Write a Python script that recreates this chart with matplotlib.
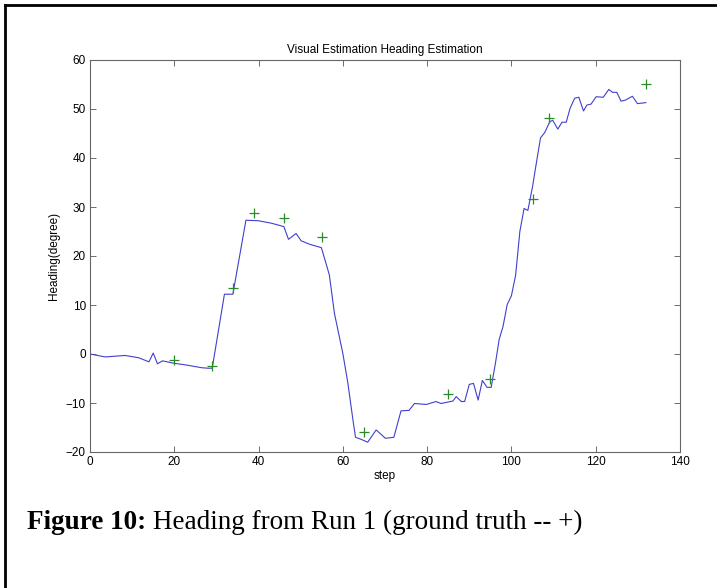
import numpy as np
import matplotlib
matplotlib.use('Agg')
import matplotlib.pyplot as plt
from matplotlib.lines import Line2D

# estimated heading (vision)
step = [0, 3.6, 6.7, 8.3, 11.5, 14, 15, 16, 17.2, 20, 22.5, 26.5, 28, 29,
        31.9, 33.9, 37, 39.9, 43, 46, 47.1, 48.9, 50.1, 52.1, 54.9, 56, 56.8,
        58, 60, 61.2, 62.4, 63, 64.3, 65.9, 67.9, 70.1, 72.1, 73.8, 75.7, 77,
        79.8, 82.1, 83.3, 86.1, 86.9, 88.1, 88.9, 90, 91, 92.1, 93.1, 94.2,
        95.2, 96.2, 97.1, 98, 99, 100, 101, 102, 103, 103.9, 105, 105.9, 106.9,
        107.9, 109.1, 109.8, 111, 112, 113, 113.9, 115, 116, 117.1, 117.9,
        118.9, 120.1, 121.8, 123.1, 124, 125, 126, 127, 128.7, 129.9, 131.9]
heading = [0, -0.6, -0.4, -0.3, -0.75, -1.6, 0.2, -2, -1.4, -1.9, -2.2, -2.8,
           -2.9, -2.9, 12.2, 12.2, 27.3, 27.2, 26.7, 26, 23.4, 24.6, 23.1,
           22.4, 21.7, 18.5, 16.1, 8.3, 0.1, -6, -13.5, -17, -17.4, -18, -15.5,
           -17.2, -17, -11.6, -11.5, -10.1, -10.3, -9.7, -10.1, -9.6, -8.7,
           -9.7, -9.7, -6.2, -6, -9.4, -5.4, -6.8, -6.8, -1.9, 3, 5.6, 10.1,
           11.9, 16.1, 25, 29.7, 29.3, 34.1, 38.9, 44.1, 45.2, 47.4, 47.7,
           45.9, 47.3, 47.3, 50.1, 52.2, 52.4, 49.6, 50.8, 51, 52.5, 52.4, 54,
           53.4, 53.4, 51.6, 51.8, 52.6, 51.1, 51.3]

# ground truth
gt_step = [20, 29, 34, 39, 46, 55, 65, 85, 95, 105, 109, 132]
gt_heading = [-1.2, -2.4, 13.5, 28.7, 27.7, 23.9, -16, -8.2, -5, 31.6, 48.1, 55.1]

plt.rcParams['font.family'] = ['Liberation Sans', 'DejaVu Sans']

W, H = 717, 588
fig = plt.figure(figsize=(W/100, H/100), dpi=100)
ax = fig.add_axes([90/W, 1-452/H, 590/W, 392/H])

ax.plot(step, heading, color='#4040cc', lw=0.8)
ax.plot(gt_step, gt_heading, '+', color='#2a8a2a', ms=6.5, mew=0.9)

ax.set_xlim(0, 140)
ax.set_ylim(-20, 60)
ax.set_xticks(np.arange(0, 141, 20))
ax.set_yticks(np.arange(-20, 61, 10))
ax.tick_params(direction='in', top=True, right=True, labelsize=8.5,
               length=4, width=0.6, color='#555555', pad=3)
for s in ax.spines.values():
    s.set_color('#666666')
    s.set_linewidth(0.8)

ax.set_title('Visual Estimation Heading Estimation', fontsize=8.5, pad=5)
ax.set_xlabel('step', fontsize=8.5, labelpad=1)
ax.set_ylabel('Heading(degree)', fontsize=8.5, labelpad=4)

# caption: bold label then normal text right after it
cap_fs = 19.5
t1 = fig.text(27/W, 1-529/H, 'Figure 10:', fontsize=cap_fs, fontweight='bold',
              family='Liberation Serif', va='baseline')
r = fig.canvas.get_renderer()
bb = t1.get_window_extent(renderer=r)
fig.text((bb.x1 + 7)/W, 1-529/H, 'Heading from Run 1 (ground truth -- +)',
         fontsize=cap_fs, family='Liberation Serif', va='baseline')

# page border (top and left)
fig.add_artist(Line2D([5/W, 5/W], [0, 1-5/H], transform=fig.transFigure,
                      color='black', lw=2))
fig.add_artist(Line2D([5/W, 1], [1-5/H, 1-5/H], transform=fig.transFigure,
                      color='black', lw=2))

fig.savefig('out.png', dpi=100)
